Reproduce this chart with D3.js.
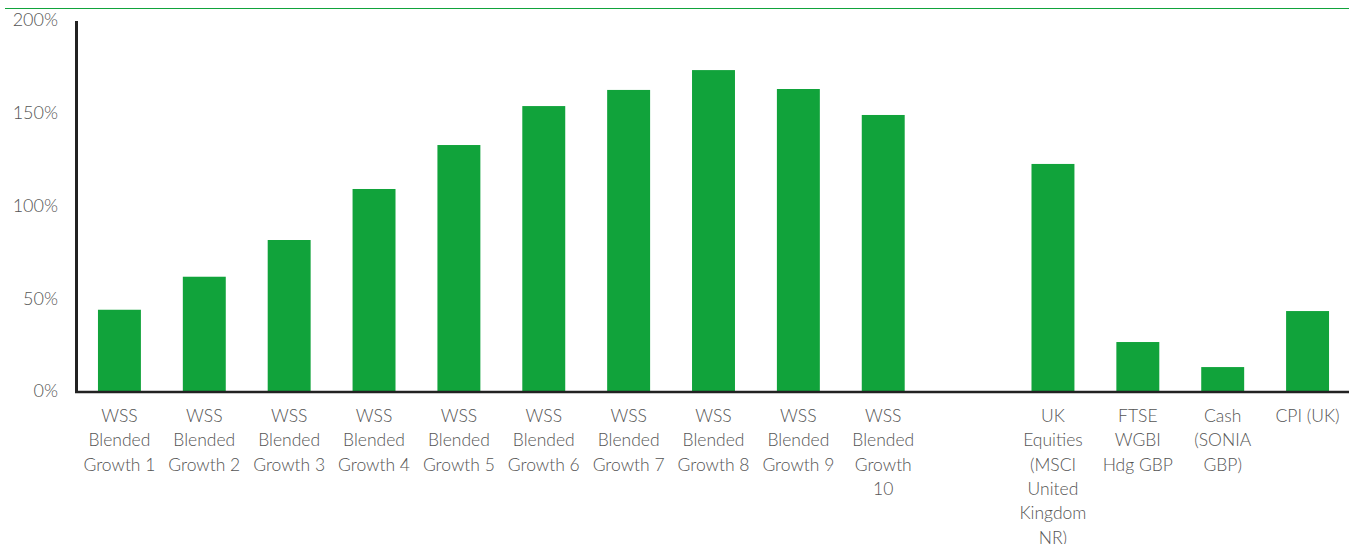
<!DOCTYPE html>
<html>
<head>
<meta charset="utf-8">
<script src="https://cdn.jsdelivr.net/npm/d3@7"></script>
<style>
  body { margin: 0; background: #fff; }
  #chart text { font-family: Lato, "Open Sans", sans-serif; font-weight: 300; fill: #555; }
</style>
</head>
<body>
<div id="chart"></div>
<script>
// categories (the empty one is a visual gap between portfolios and benchmarks)
const categories = ['g1', 'g2', 'g3', 'g4', 'g5', 'g6', 'g7', 'g8', 'g9', 'g10', 'gap', 'uk', 'ftse', 'cash', 'cpi']
const labels = [
  'WSS\nBlended\nGrowth 1', 'WSS\nBlended\nGrowth 2', 'WSS\nBlended\nGrowth 3', 'WSS\nBlended\nGrowth 4',
  'WSS\nBlended\nGrowth 5', 'WSS\nBlended\nGrowth 6', 'WSS\nBlended\nGrowth 7', 'WSS\nBlended\nGrowth 8',
  'WSS\nBlended\nGrowth 9', 'WSS\nBlended\nGrowth\n10', '',
  'UK\nEquities\n(MSCI\nUnited\nKingdom\nNR)', 'FTSE\nWGBI\nHdg GBP', 'Cash\n(SONIA\nGBP)', 'CPI (UK)'
]
// cumulative return, %
const values = [43.8, 61.6, 81.4, 108.9, 132.6, 153.6, 162.3, 173.0, 162.8, 148.8, null, 122.4, 26.4, 12.9, 43.1]
const yTicks = [0, 50, 100, 150, 200]

const width = 1349
const height = 544
const green = '#11a33b'

const svg = d3.select('#chart').append('svg')
  .attr('width', width)
  .attr('height', height)

// thin rule across the top
svg.append('line')
  .attr('x1', 5).attr('x2', width)
  .attr('y1', 8.5).attr('y2', 8.5)
  .attr('stroke', green)
  .attr('stroke-width', 1)

const x = d3.scaleBand()
  .domain(categories)
  .range([77, 1350])
  .padding(0)

const y = d3.scaleLinear()
  .domain([0, 200])
  .range([391, 20])

const bw = x.bandwidth()
const data = categories.map((c, i) => ({c, v: values[i], label: labels[i]}))

svg.selectAll('.bar')
  .data(data.filter(d => d.v != null))
  .enter()
  .append('rect')
  .attr('class', 'bar')
  .attr('x', d => x(d.c) + bw * 0.247)
  .attr('width', bw * 0.506)
  .attr('y', d => y(d.v))
  .attr('height', d => y(0) - y(d.v))
  .attr('fill', green)

// y tick labels
svg.selectAll('.ytick')
  .data(yTicks)
  .enter()
  .append('text')
  .attr('class', 'ytick')
  .attr('x', 58)
  .attr('y', d => y(d))
  .attr('dy', '0.35em')
  .attr('text-anchor', 'end')
  .style('font-size', '18px')
  .text(d => d + '%')

// axes lines
svg.append('line')
  .attr('x1', 76.5).attr('x2', 76.5)
  .attr('y1', 21).attr('y2', 393)
  .attr('stroke', '#222')
  .attr('stroke-width', 3)
svg.append('line')
  .attr('x1', 75).attr('x2', width)
  .attr('y1', 392).attr('y2', 392)
  .attr('stroke', '#222')
  .attr('stroke-width', 2.5)

// category labels
const lbl = svg.selectAll('.xlabel')
  .data(data)
  .enter()
  .append('text')
  .attr('class', 'xlabel')
  .attr('text-anchor', 'middle')
  .style('font-size', '17.5px')
lbl.selectAll('tspan')
  .data(d => d.label ? d.label.split('\n').map(t => ({t, c: d.c})) : [])
  .enter()
  .append('tspan')
  .attr('x', d => x(d.c) + bw / 2)
  .attr('y', (d, i) => 422 + i * 24.3)
  .text(d => d.t)
</script>
</body>
</html>
